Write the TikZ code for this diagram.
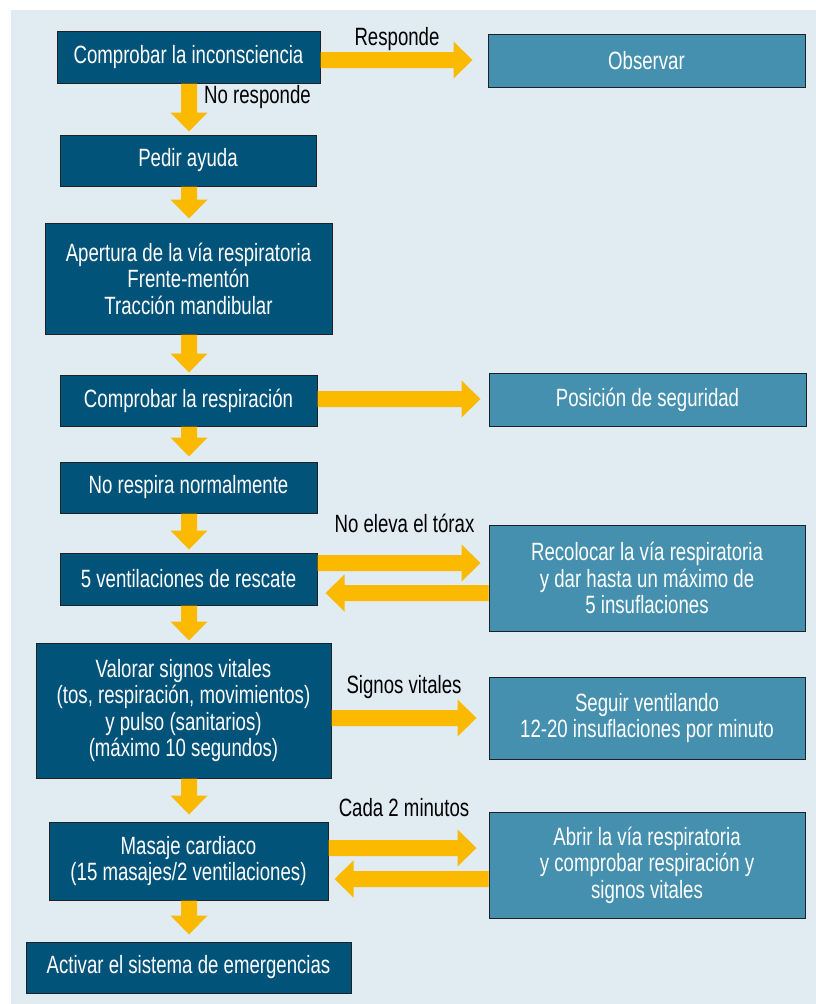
\documentclass[tikz,border=0pt]{standalone}
\usepackage{fontspec}
\setmainfont[FakeStretch=0.745]{Liberation Sans}
\usetikzlibrary{calc}

\definecolor{bgc}{HTML}{E0EBF2}
\definecolor{darkc}{HTML}{02537A}
\definecolor{lightc}{HTML}{4590AF}
\definecolor{arrowc}{HTML}{FBB900}
\definecolor{edgec}{HTML}{1C2226}

\tikzset{
  box/.style={draw=edgec, line width=1pt, text=white,
    font=\fontsize{25}{26.5}\selectfont, align=center, inner sep=0pt},
  mainbox/.style={box, fill=darkc},
  sidebox/.style={box, fill=lightc},
  size/.style 2 args={minimum width=#1pt, minimum height=#2pt},
  tag/.style={font=\fontsize{25}{26.5}\selectfont, text=black,
    inner sep=0pt, anchor=base},
}

% broad downward arrow from one box to the next, on the common axis
\newcommand{\vfat}[3]{%
  \fill[arrowc] let \p0=(axis), \p1=(#1.south), \p2=(#2.north) in
    (\x0-8pt,\y1) -- (\x0+8pt,\y1) -- (\x0+8pt,\y2+#3pt+19pt)
    -- (\x0+18.5pt,\y2+#3pt+19pt) -- (\x0,\y2+#3pt)
    -- (\x0-18.5pt,\y2+#3pt+19pt) -- (\x0-8pt,\y2+#3pt+19pt) -- cycle;}
% broad arrow pointing right: from, to, level, gap before the target
\newcommand{\rfat}[4]{%
  \fill[arrowc] let \p1=(#1.east), \p2=(#2.west), \p3=(0,#3) in
    (\x1,\y3+8pt) -- (\x2-#4pt-19pt,\y3+8pt) -- (\x2-#4pt-19pt,\y3+18.5pt)
    -- (\x2-#4pt,\y3) -- (\x2-#4pt-19pt,\y3-18.5pt)
    -- (\x2-#4pt-19pt,\y3-8pt) -- (\x1,\y3-8pt) -- cycle;}
% broad arrow pointing left: from, to, level, gap before the target
\newcommand{\lfat}[4]{%
  \fill[arrowc] let \p1=(#1.west), \p2=(#2.east), \p3=(0,#3) in
    (\x1,\y3+8pt) -- (\x2+#4pt+19pt,\y3+8pt) -- (\x2+#4pt+19pt,\y3+18.5pt)
    -- (\x2+#4pt,\y3) -- (\x2+#4pt+19pt,\y3-18.5pt)
    -- (\x2+#4pt+19pt,\y3-8pt) -- (\x1,\y3-8pt) -- cycle;}

\begin{document}
\begin{tikzpicture}[x=1pt, y=-1pt]
\useasboundingbox (0,0) rectangle (816,1004);
\fill[bgc] (11,10) rectangle (816,1004);
\coordinate (axis) at (189,0);

% main sequence
\node[mainbox, size={263}{52}] (b1) at (188.5,57) {Comprobar la inconsciencia};
\node[mainbox, size={256}{51}] (b2) at (188,160.5) {Pedir ayuda};
\node[mainbox, size={287}{111}] (b3) at (188.5,278.5)
  {Apertura de la vía respiratoria\\Frente-mentón\\Tracción mandibular};
\node[mainbox, size={257}{51}] (b4) at (188.5,400.5) {Comprobar la respiración};
\node[mainbox, size={257}{51}] (b5) at (188.5,487.5) {No respira normalmente};
\node[mainbox, size={257}{52}] (b6) at (188.5,579) {5 ventilaciones de rescate};
\node[mainbox, size={295}{135}] (b7) at (183.5,710.5)
  {Valorar signos vitales\\(tos, respiración, movimientos)\\y pulso (sanitarios)\\(máximo 10 segundos)};
\node[mainbox, size={279}{78}] (b8) at (188.5,861)
  {Masaje cardiaco\\(15 masajes/2 ventilaciones)};
\node[mainbox, size={325}{51}] (b9) at (188.5,967.5) {Activar el sistema de emergencias};

% side branches
\node[sidebox, size={317}{53}] (obs) at (646.5,60.5) {Observar};
\node[sidebox, size={317}{53}] (pos) at (647.5,399.5) {Posición de seguridad};
\node[sidebox, size={316}{106}] (rec) at (647,578)
  {Recolocar la vía respiratoria\\y dar hasta un máximo de\\5 insuflaciones};
\node[sidebox, size={316}{82}] (seg) at (647,718)
  {Seguir ventilando\\12-20 insuflaciones por minuto};
\node[sidebox, size={316}{106}] (abr) at (647,865)
  {Abrir la vía respiratoria\\y comprobar respiración y\\signos vitales};

% downward flow
\vfat{b1}{b2}{3}
\vfat{b2}{b3}{4}
\vfat{b3}{b4}{2}
\vfat{b4}{b5}{5}
\vfat{b5}{b6}{3}
\vfat{b6}{b7}{2}
\vfat{b7}{b8}{7}
\vfat{b8}{b9}{7}

% branch arrows
\rfat{b1}{obs}{60}{15}
\rfat{b4}{pos}{399}{8}
\rfat{b6}{rec}{563}{8}
\lfat{rec}{b6}{593}{8}
\rfat{b7}{seg}{718}{12}
\rfat{b8}{abr}{848}{12}
\lfat{abr}{b8}{879}{6}

% arrow labels
\node[tag] (lresp) at (397,45) {Responde};
\node[tag, anchor=base west] (lnoresp) at (204,103) {No responde};
\node[tag] (ltorax) at (404.5,532) {No eleva el tórax};
\node[tag] (lsignos) at (404,693) {Signos vitales};
\node[tag] (lcada) at (404,816) {Cada 2 minutos};
\end{tikzpicture}
\end{document}
